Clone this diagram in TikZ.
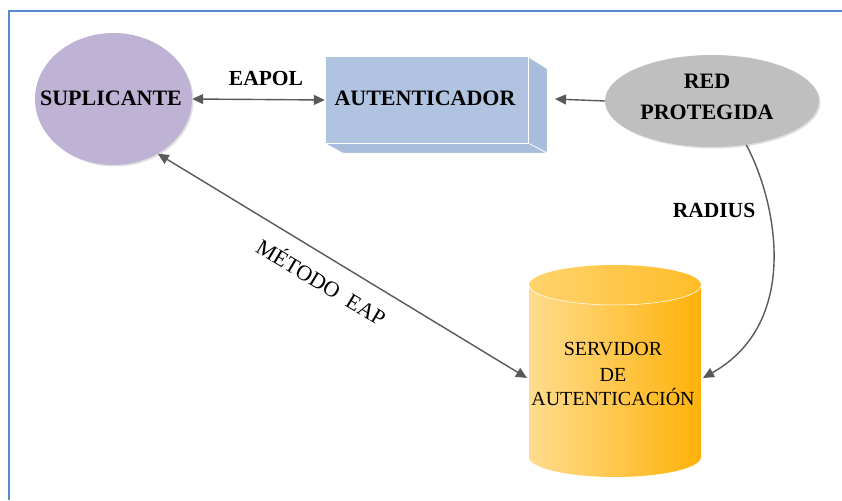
\documentclass[tikz,border=0pt]{standalone}
\usepackage{fontspec}
\setmainfont{Liberation Serif}
\usetikzlibrary{shapes.geometric,arrows.meta,shadows,calc}

\definecolor{frameblue}{HTML}{5A88CC}
\definecolor{supfill}{HTML}{BFB3D5}
\definecolor{autfront}{HTML}{B0C4E2}
\definecolor{autside}{HTML}{A8BCDC}
\definecolor{redfill}{HTML}{BFBFBF}
\definecolor{cylLight}{HTML}{FFDC8E}
\definecolor{cylDark}{HTML}{FFB20A}
\definecolor{cylTop}{HTML}{FFD46E}
\definecolor{linkgray}{HTML}{595959}

\tikzset{
  bubble/.style={ellipse, inner sep=0pt,
    drop shadow={shadow xshift=1.5pt, shadow yshift=-1.5pt, fill=black!12, opacity=1}},
  title/.style={font=\bfseries\fontsize{22}{31}\selectfont, align=center},
  link/.style={draw=linkgray, line width=1.4pt, -{Triangle[length=11pt,width=10pt]}},
  dlink/.style={link, {Triangle[length=11pt,width=10pt]}-{Triangle[length=11pt,width=10pt]}},
  tag/.style={font=\bfseries\fontsize{21.5}{25}\selectfont},
  plaintag/.style={font=\fontsize{20}{24}\selectfont},
}

\begin{document}
\begin{tikzpicture}[x=1pt, y=-1pt]
  \useasboundingbox (0,0) rectangle (842,500);
  \fill[white] (0,0) rectangle (842,500);

  % outer frame (only top and left edges fall inside the page)
  \draw[frameblue, line width=2pt] (9,500) -- (9,11) -- (842,11);

  % supplicant
  \node[bubble, fill=supfill, minimum width=157pt, minimum height=132pt]
    (sup) at (113.5,99) {};
  \node[title] (supt) at (111,98) {SUPLICANTE};

  % authenticator drawn as an extruded box
  \node[rectangle, inner sep=0pt, minimum width=203pt, minimum height=86pt] (aut) at (426.5,100) {};
  \fill[autside, draw=white, line width=0.6pt]
    (aut.north east) -- ++(19,12) -- ++(0,84) -- ($(aut.south east)$) -- cycle;
  \fill[autside, draw=white, line width=0.6pt]
    (aut.south west) -- (aut.south east) -- ++(19,10) -- ($(aut.south west)+(18,10)$) -- cycle;
  \fill[autfront, draw=white, line width=0.6pt] (aut.south west) rectangle (aut.north east);
  \node[title] (autt) at (425,98) {AUTENTICADOR};
  \coordinate (autR) at (555,99);

  % protected network
  \node[bubble, fill=redfill, minimum width=214pt, minimum height=92pt]
    (red) at (712,101) {};
  \node[title] (redt) at (707,97) {RED\\PROTEGIDA};

  % authentication server (cylinder)
  \node[rectangle, inner sep=0pt, minimum width=172pt, minimum height=212pt] (srv) at (615,371) {};
  \shade[left color=cylLight, right color=cylDark]
    (529,285) -- (529,457) arc[start angle=180, end angle=0, x radius=86, y radius=20]
    -- (701,285) arc[start angle=0, end angle=180, x radius=86, y radius=20] -- cycle;
  \shade[left color=cylTop, right color=cylDark!70!cylTop]
    (615,285) ellipse[x radius=86, y radius=20];
  \draw[white, line width=0.5pt] (529,285) arc[start angle=180, end angle=0, x radius=86, y radius=20];
  \node[plaintag, align=center] (srvt) at (613,374) {SERVIDOR\\[2pt]DE\\[0pt]AUTENTICACIÓN};
  \coordinate (srvL) at (527,378);
  \coordinate (srvR) at (703,378);

  % connectors
  \draw[dlink] (sup.east) -- (aut.west);
  \node[tag] (eapol) at (266,78) {EAPOL};
  \draw[link] (red.west) -- (autR);
  \draw[dlink] (sup.-51) -- (srvL);
  \node[font=\fontsize{22}{26}\selectfont, rotate=-31] (eap) at (322,281) {MÉTODO\ \ EAP};
  \draw[link] (red.-52) .. controls (776,200) and (802,322) .. (srvR);
  \node[tag] (radius) at (714,210) {RADIUS};
\end{tikzpicture}
\end{document}
